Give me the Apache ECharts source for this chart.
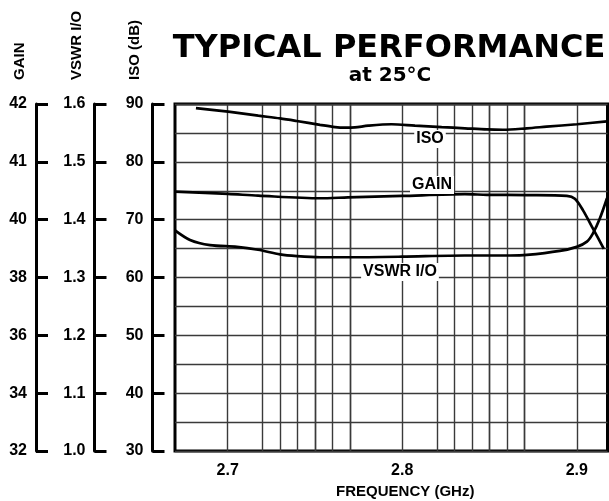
<!DOCTYPE html>
<html>
<head>
<meta charset="utf-8">
<script src="https://cdn.jsdelivr.net/npm/echarts@6/dist/echarts.min.js"></script>
<style>
html,body{margin:0;padding:0;background:#fff;}
#chart{width:609px;height:501px;}
</style>
</head>
<body>
<div id="chart"></div>
<script>
// ---- data ----
const X_TICKS = [2.7, 2.8, 2.9];
const GAIN_TICK_LABELS = ['32', '34', '36', '38', '40', '41', '42'];
const GRID_FREQS = [2.7, 2.7175, 2.73, 2.7397, 2.7483, 2.7542, 2.7603, 2.7653, 2.7699,
                    2.8, 2.8178, 2.8298, 2.8401, 2.8483, 2.8546, 2.8607, 2.8656, 2.8698, 2.9];

const FREQ_ISO = [2.6818, 2.7003, 2.7175, 2.7300, 2.7395, 2.7529, 2.7615, 2.7672, 2.7729, 2.7805, 2.7939, 2.8073, 2.8226, 2.8359, 2.8485, 2.8577, 2.8714, 2.8827, 2.9001, 2.9173];
const ISO_DB   = [89.3,   88.67,  87.98,  87.5,   87.06,  86.4,   86.0,   85.9,   85.95,  86.25,  86.5,   86.25,  86.0,   85.8,   85.6,   85.55,  85.8,   86.08,  86.5,   87.0];

const FREQ_GAIN = [2.6698, 2.7002, 2.7174, 2.7529, 2.7689, 2.7998, 2.8359, 2.8485, 2.8714, 2.8943, 2.8989, 2.9035, 2.9092, 2.9155];
const GAIN_DB   = [40.97,  40.89,  40.83,  40.74,  40.77,  40.82,  40.88,  40.86,  40.85,  40.82,  40.72,  40.33,  39.70,  38.99];

const FREQ_VSWR = [2.6696, 2.6784, 2.6899, 2.7053, 2.7174, 2.7300, 2.7397, 2.7529, 2.7689, 2.7998, 2.8359, 2.8617, 2.8714, 2.8903, 2.9000, 2.9058, 2.9092, 2.9132, 2.9173];
const VSWR_IO   = [1.382,  1.365,  1.356,  1.353,  1.348,  1.340,  1.337,  1.335,  1.335,  1.336,  1.338,  1.338,  1.339,  1.346,  1.353,  1.362,  1.376,  1.402,  1.437];

// ---- chart ----
const FONT = 'Liberation Sans, Arial, sans-serif';
const pairs = (xs, ys) => xs.map((x, i) => [x, ys[i]]);
const chart = echarts.init(document.getElementById('chart'), null, {renderer: 'canvas'});

const leftAxis = (offset, min, max, interval, fmt, extra) => Object.assign({
  type: 'value', position: 'left', offset: offset, min: min, max: max, interval: interval,
  axisLine: {show: true, onZero: false, lineStyle: {color: '#000', width: 3}},
  axisTick: {show: true, inside: true, length: 12, lineStyle: {color: '#000', width: 3}},
  axisLabel: {show: true, margin: 9, color: '#000', fontSize: 16, fontWeight: 'bold', fontFamily: FONT, formatter: fmt},
  splitLine: {show: false}
}, extra || {});

const lineSeries = (name, data, yIdx) => ({
  name: name, type: 'line', data: data, yAxisIndex: yIdx,
  showSymbol: false, smooth: 0.3,
  lineStyle: {color: '#000', width: 2.7}, z: 5, silent: true, animation: false
});

const labelText = (x, y, txt) => ({
  type: 'text', x: x, y: y, z: 100,
  style: {text: txt, font: 'bold 16px ' + FONT, fill: '#000',
          textAlign: 'center', textVerticalAlign: 'middle', align: 'center', verticalAlign: 'middle',
          backgroundColor: '#fff', padding: [1, 2, 1, 2]}
});
const axisName = (x, txt) => ({
  type: 'text', x: x, y: 80, rotation: Math.PI / 2, z: 100,
  style: {text: txt, font: 'bold 15px ' + FONT, fill: '#000',
          textAlign: 'left', textVerticalAlign: 'middle', align: 'left', verticalAlign: 'middle'}
});

chart.setOption({
  animation: false,
  backgroundColor: '#fff',
  grid: {left: 175, right: 1.5, top: 104, bottom: 50, show: true, borderColor: '#000', borderWidth: 3,
         backgroundColor: 'transparent', containLabel: false, outerBoundsMode: 'none'},
  xAxis: {
    type: 'value', min: 2.6698, max: 2.9176,
    axisLine: {show: false}, axisTick: {show: false}, splitLine: {show: false},
    axisLabel: {show: true, customValues: X_TICKS, margin: 12, color: '#000', fontSize: 16, fontWeight: 'bold',
                fontFamily: FONT, formatter: v => v.toFixed(1)},
    name: 'FREQUENCY (GHz)', nameLocation: 'middle', nameGap: 33,
    nameTextStyle: {color: '#000', fontSize: 15, fontWeight: 'bold', fontFamily: FONT, padding: [0, 0, 0, 28]}
  },
  yAxis: [
    leftAxis(22.5, 30, 90, 10, v => String(v), {
      splitLine: {show: true, lineStyle: {color: '#3a3a3a', width: 1.4}},
      minorTick: {show: false, splitNumber: 2},
      minorSplitLine: {show: true, lineStyle: {color: '#3a3a3a', width: 1.4}}
    }),
    leftAxis(80.5, 1.0, 1.6, 0.1, v => v.toFixed(1)),
    leftAxis(139, 32, 44, 2, v => GAIN_TICK_LABELS[Math.round((v - 32) / 2)])
  ],
  series: [
    {
      name: 'grid', type: 'line', data: [], yAxisIndex: 0, silent: true, z: 1,
      markLine: {
        silent: true, symbol: ['none', 'none'], animation: false,
        label: {show: false},
        lineStyle: {color: '#3a3a3a', width: 1.4, type: 'solid'},
        data: GRID_FREQS.map(f => ({xAxis: f}))
      }
    },
    lineSeries('ISO', pairs(FREQ_ISO, ISO_DB), 0),
    lineSeries('VSWR I/O', pairs(FREQ_VSWR, VSWR_IO), 1),
    lineSeries('GAIN', pairs(FREQ_GAIN, GAIN_DB), 2)
  ],
  graphic: [
    {type: 'text', x: 389, y: 49, z: 100,
     style: {text: 'TYPICAL PERFORMANCE', font: 'bold 32px "DejaVu Sans", sans-serif', fill: '#000',
             textAlign: 'center', textVerticalAlign: 'middle', align: 'center', verticalAlign: 'middle'}},
    {type: 'text', x: 390, y: 76, z: 100,
     style: {text: 'at 25°C', font: 'bold 20px "DejaVu Sans", sans-serif', fill: '#000',
             textAlign: 'center', textVerticalAlign: 'middle', align: 'center', verticalAlign: 'middle'}},
    axisName(20, 'GAIN'),
    axisName(77, 'VSWR I/O'),
    axisName(135, 'ISO (dB)'),
    labelText(430, 139, 'ISO'),
    labelText(432, 185, 'GAIN'),
    labelText(400, 272, 'VSWR I/O')
  ]
});
</script>
</body>
</html>
